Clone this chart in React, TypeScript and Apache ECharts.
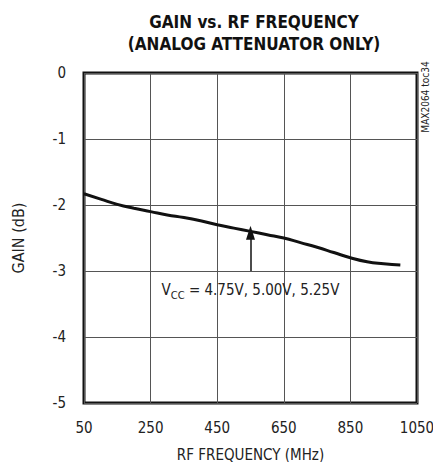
import React, { useEffect, useRef } from "react";
import * as echarts from "echarts";

const freqMHz = [50, 100, 150, 200, 250, 300, 350, 400, 450, 500, 550, 600, 650, 700, 750, 800, 850, 900, 950, 1000];
const gainDb = [-1.83, -1.91, -1.99, -2.05, -2.10, -2.15, -2.19, -2.24, -2.30, -2.35, -2.40, -2.45, -2.50, -2.57, -2.64, -2.72, -2.80, -2.86, -2.89, -2.91];
const xTicks = [50, 250, 450, 650, 850, 1050];
const yTicks = [0, -1, -2, -3, -4, -5];
const arrowFreq = 550;
const arrowFrom = -3.0;
const arrowTo = -2.42;

const FONT = "'DejaVu Sans Condensed', 'Liberation Sans Narrow', sans-serif";

export default function App() {
  const ref = useRef<HTMLDivElement>(null);
  useEffect(() => {
    if (!ref.current) return;
    const chart = echarts.init(ref.current, null, { renderer: "svg" });
    chart.setOption({
      animation: false,
      backgroundColor: "#fff",
      title: {
        text: "GAIN vs. RF FREQUENCY\n(ANALOG ATTENUATOR ONLY)",
        left: 249,
        top: 6,
        textAlign: "center",
        textStyle: { fontFamily: FONT, fontWeight: "bold", fontSize: 17, lineHeight: 22, color: "#111" },
      },
      grid: {
        left: 84, right: 16, top: 73, bottom: 59,
        containLabel: false,
        outerBoundsMode: "none",
        show: true, borderColor: "#111", borderWidth: 3, backgroundColor: "transparent",
      },
      xAxis: {
        type: "value",
        min: xTicks[0],
        max: xTicks[xTicks.length - 1],
        interval: 200,
        name: "RF FREQUENCY (MHz)",
        nameLocation: "middle",
        nameGap: 44,
        nameTextStyle: { fontFamily: FONT, fontSize: 15, color: "#222" },
        axisLine: { show: false },
        axisTick: { show: false },
        axisLabel: { fontFamily: FONT, fontSize: 15, color: "#222", margin: 17, formatter: (v: number) => String(v) },
        splitLine: { show: true, lineStyle: { color: "#555", width: 1 } },
      },
      yAxis: {
        type: "value",
        min: yTicks[yTicks.length - 1],
        max: yTicks[0],
        interval: 1,
        name: "GAIN (dB)",
        nameLocation: "middle",
        nameGap: 58,
        nameRotate: 90,
        nameTextStyle: { fontFamily: FONT, fontSize: 16, color: "#222" },
        axisLine: { show: false },
        axisTick: { show: false },
        axisLabel: { fontFamily: FONT, fontSize: 15, color: "#222", margin: 18 },
        splitLine: { show: true, lineStyle: { color: "#555", width: 1 } },
      },
      series: [
        {
          type: "line",
          data: freqMHz.map((f, i) => [f, gainDb[i]]),
          showSymbol: false,
          smooth: true,
          lineStyle: { color: "#111", width: 3 },
          markLine: {
            silent: true,
            symbol: ["none", "triangle"],
            symbolSize: [9, 14],
            label: { show: false },
            lineStyle: { color: "#111", width: 1.5, type: "solid" },
            data: [[{ coord: [arrowFreq, arrowFrom] }, { coord: [arrowFreq, arrowTo] }]],
          },
        },
      ],
    });
    const p = chart.convertToPixel({ gridIndex: 0 }, [arrowFreq, arrowFrom]) as number[];
    chart.setOption({
      graphic: [
        {
          type: "text",
          x: p[0],
          y: p[1] + 16,
          style: {
            text: "{v|V}{s|CC}{t| = 4.75V, 5.00V, 5.25V}",
            align: "center",
            verticalAlign: "middle",
            fill: "#222",
            rich: {
              v: { fontFamily: FONT, fontSize: 15, fill: "#222", verticalAlign: "bottom", lineHeight: 20 },
              s: { fontFamily: FONT, fontSize: 11, fill: "#222", verticalAlign: "bottom", lineHeight: 14, padding: [0, 0, -4, 0] },
              t: { fontFamily: FONT, fontSize: 15, fill: "#222", verticalAlign: "bottom", lineHeight: 20 },
            },
          },
        },
        {
          type: "text",
          x: 425,
          y: 97,
          rotation: Math.PI / 2,
          style: {
            text: "MAX2064 toc34",
            align: "center",
            verticalAlign: "middle",
            fontFamily: FONT,
            fontSize: 10,
            fill: "#222",
          },
        },
      ],
    });
    return () => chart.dispose();
  }, []);
  return <div ref={ref} style={{ position: "absolute", left: 0, top: 0, width: 433, height: 462 }} />;
}
